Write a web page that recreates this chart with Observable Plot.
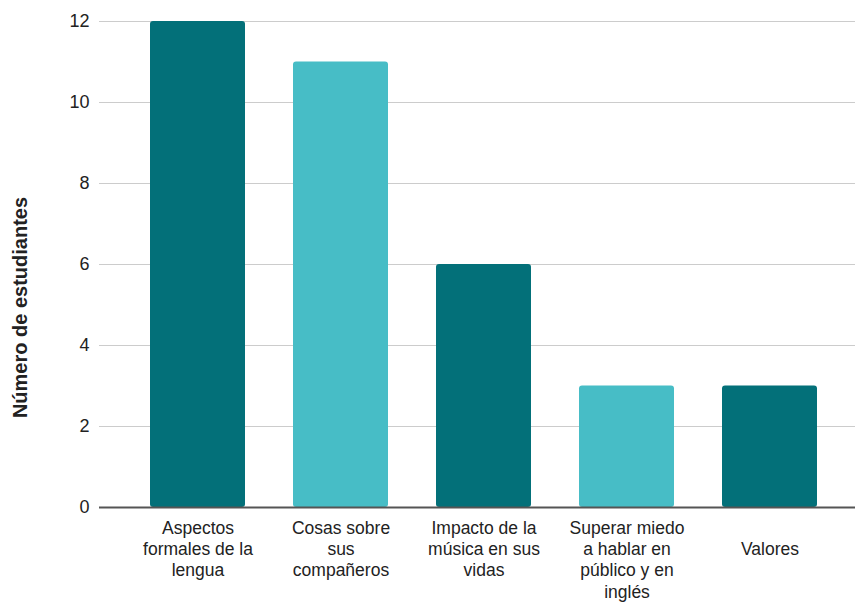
<!DOCTYPE html>
<html>
<head>
<meta charset="utf-8">
<script src="https://cdn.jsdelivr.net/npm/d3@7"></script>
<script src="https://cdn.jsdelivr.net/npm/@observablehq/plot@0.6"></script>
<style>
  html, body { margin: 0; padding: 0; background: #fff; }
  #chart svg { display: block; }
</style>
</head>
<body>
<div id="chart"></div>
<script>
const categories = [
  "Aspectos formales de la lengua",
  "Cosas sobre sus compañeros",
  "Impacto de la música en sus vidas",
  "Superar miedo a hablar en público y en inglés",
  "Valores"
];
const tickLabels = [
  "Aspectos\nformales de la\nlengua",
  "Cosas sobre\nsus\ncompañeros",
  "Impacto de la\nmúsica en sus\nvidas",
  "Superar miedo\na hablar en\npúblico y en\ninglés",
  "\u00a0\nValores"
];
const values = [12, 11, 6, 3, 3];
const barColors = ["#037079", "#47bdc6", "#037079", "#47bdc6", "#037079"];
const yTicks = [0, 2, 4, 6, 8, 10, 12];
const yLabel = "Número de estudiantes";

const data = categories.map((c, i) => ({cat: c, value: values[i], color: barColors[i]}));
const labelOf = new Map(categories.map((c, i) => [c, tickLabels[i]]));

const chart = Plot.plot({
  width: 855,
  height: 602,
  marginLeft: 99,
  marginRight: 0,
  marginTop: 21,
  marginBottom: 95,
  style: {fontFamily: "'Liberation Sans', Arial, sans-serif", fontSize: "18px", color: "#222"},
  x: {domain: categories, range: [124, 844], paddingInner: 0.333, paddingOuter: 0.1667},
  y: {domain: [0, 12], ticks: yTicks},
  marks: [
    Plot.gridY(yTicks, {stroke: "#cccccc", strokeOpacity: 1, strokeWidth: 1}),
    Plot.barY(data, {x: "cat", y: "value", fill: "color", rx: 3}),
    Plot.ruleY([0], {stroke: "#555555", strokeWidth: 2}),
    Plot.axisY(yTicks, {tickSize: 0, tickPadding: 10, label: null, fontSize: 18, fill: "#222"}),
    Plot.axisX({tickSize: 0, tickPadding: 11, label: null, fontSize: 17.5, lineHeight: 1.22, fill: "#222",
      tickFormat: d => labelOf.get(d)}),
    Plot.text([yLabel], {frameAnchor: "left", text: d => d, rotate: -90, dx: -79, dy: 43,
      textAnchor: "middle", fontWeight: "bold", fontSize: 20, fill: "#222"})
  ]
});
document.getElementById("chart").appendChild(chart);
</script>
</body>
</html>
